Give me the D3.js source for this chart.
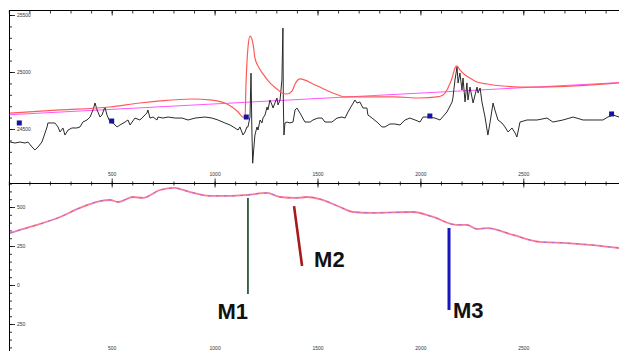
<!DOCTYPE html>
<html>
<head>
<meta charset="utf-8">
<script src="https://cdn.jsdelivr.net/npm/d3@7"></script>
<style>
  body { margin: 0; background: #fff; }
  svg { display: block; font-family: "Liberation Sans", Arial, sans-serif; }
  .tick text { fill: #333; font-size: 5px; }
</style>
</head>
<body>
<svg id="chart" width="619" height="351"></svg>
<script>
// x = wavenumber, y = signal
const spectrum = [
  [6,24386],[30,24377],[54,24386],[79,24377],[93,24386],[113,24342],[127,24316],[142,24342],
  [161,24386],[176,24465],[186,24518],[190,24553],[210,24553],[224,24553],[239,24518],[249,24474],
  [263,24509],[273,24447],[288,24491],[307,24509],[331,24509],[346,24518],[360,24561],[380,24579],
  [395,24605],[409,24667],[419,24728],[429,24667],[443,24605],[453,24623],[467,24693],[477,24623],
  [492,24561],[506,24553],[526,24518],[540,24535],[565,24561],[579,24579],[589,24535],[613,24596],
  [637,24579],[652,24605],[671,24640],[676,24667],[686,24596],[701,24605],[720,24579],[725,24605],
  [749,24596],[774,24605],[808,24596],[842,24596],[871,24579],[905,24596],[953,24605],[987,24596],
  [1016,24579],[1050,24553],[1075,24535],[1099,24509],[1114,24491],[1123,24518],[1138,24447],
  [1148,24474],[1157,24518],[1162,24518],[1172,24605],[1177,24990],[1181,24500],[1185,24200],
  [1191,24342],[1196,24447],[1206,24518],[1211,24491],[1221,24579],[1230,24553],[1235,24596],
  [1245,24623],[1255,24693],[1259,24667],[1269,24754],[1279,24711],[1284,24684],[1293,24728],
  [1303,24772],[1308,24711],[1318,24754],[1327,24930],[1332,25386],[1334,24728],[1337,24447],
  [1342,24553],[1352,24561],[1366,24553],[1381,24561],[1391,24667],[1400,24684],[1415,24640],
  [1439,24561],[1464,24561],[1478,24579],[1502,24596],[1522,24596],[1536,24561],[1570,24561],
  [1595,24596],[1619,24605],[1634,24596],[1648,24649],[1668,24711],[1682,24754],[1692,24728],
  [1706,24737],[1721,24684],[1740,24684],[1745,24623],[1765,24596],[1789,24561],[1813,24518],
  [1828,24518],[1852,24544],[1876,24544],[1901,24535],[1925,24579],[1949,24596],[1974,24579],
  [1998,24561],[2013,24605],[2032,24605],[2071,24596],[2095,24579],[2129,24649],[2154,24737],
  [2158,24772],[2168,24930],[2178,25044],[2183,24904],[2192,24991],[2202,24842],[2207,24947],
  [2217,24737],[2226,24904],[2231,24754],[2241,24868],[2256,24728],[2275,24868],[2280,24816],
  [2290,24860],[2299,24737],[2314,24605],[2324,24491],[2328,24447],[2338,24553],[2353,24728],
  [2362,24667],[2377,24579],[2396,24553],[2411,24518],[2426,24474],[2445,24509],[2460,24465],
  [2469,24430],[2484,24561],[2518,24579],[2567,24579],[2615,24596],[2644,24561],[2693,24579],
  [2742,24605],[2790,24579],[2839,24579],[2887,24579],[2911,24605],[2936,24623],[2965,24605]
];

const fit = [
  [6,24640],[249,24667],[492,24693],[637,24728],[735,24746],[890,24763],[987,24754],[1050,24728],
  [1085,24693],[1114,24649],[1138,24605],[1148,24605],[1152,24860],[1162,25210],[1172,25315],
  [1187,25245],[1196,25123],[1211,25053],[1235,24983],[1269,24904],[1303,24851],[1327,24816],
  [1352,24807],[1376,24833],[1391,24895],[1415,24939],[1488,24886],[1600,24798],[1634,24781],
  [1706,24781],[1876,24781],[1998,24772],[2081,24781],[2110,24798],[2134,24860],[2154,24947],
  [2168,25035],[2178,25053],[2192,25018],[2217,24974],[2241,24947],[2275,24912],[2324,24895],
  [2401,24877],[2484,24868],[2596,24868],[2965,24904]
];

const baseline = [[0,24625],[3000,24910]];

const anchors = [[51,24553],[500,24570],[1154,24605],[2046,24614],[2929,24632]];

const lower = [
  [6,333],[103,372],[249,436],[346,494],[443,538],[492,545],[531,532],[604,564],[652,558],
  [735,609],[808,622],[832,615],[881,596],[978,571],[1075,571],[1157,577],[1255,590],[1318,564],
  [1400,558],[1449,564],[1512,551],[1609,500],[1672,468],[1770,462],[1964,468],[2061,436],
  [2178,385],[2226,385],[2275,359],[2324,365],[2450,321],[2581,276],[2712,269],[2839,256],[2965,237]
];

const markerNames = ["M1", "M2", "M3"];
const markerStart = [[1162,558],[1386,506],[2139,365]];
const markerEnd = [[1162,-58],[1425,122],[2139,-160]];

const xLabelTicks = [500, 1000, 1500, 2000, 2500];
const yTopLabelTicks = [24500, 25000, 25500];
const yBotLabelTicks = [500, 250, 0, -250];
const yBotLabelText = ["500", "250", "0", "250"];

const svg = d3.select("#chart");
const W = 619, H = 351;
const topY = 10, midY = 183, axisX = 9.5;

const x = d3.scaleLinear().domain([0, 3000]).range([8.8, 626.2]);
const yTop = d3.scaleLinear().domain([24500, 25500]).range([129, 15]);
const yBot = d3.scaleLinear().domain([-250, 500]).range([324, 207]);

// frame lines
svg.append("line").attr("x1", axisX).attr("x2", W).attr("y1", topY + 0.5).attr("y2", topY + 0.5)
  .attr("stroke", "#000");
svg.append("line").attr("x1", axisX).attr("x2", W).attr("y1", midY + 0.5).attr("y2", midY + 0.5)
  .attr("stroke", "#000");
svg.append("line").attr("x1", axisX).attr("x2", axisX).attr("y1", topY).attr("y2", H)
  .attr("stroke", "#000");

function tickAxis(axis, tx, ty) {
  const g = svg.append("g").attr("transform", `translate(${tx},${ty})`).call(axis);
  g.select(".domain").remove();
  g.selectAll(".tick line").attr("stroke", "#000").attr("stroke-width", 0.8);
  return g;
}

const minorX = d3.range(0, 3001, 100);
// top edge: ticks hanging down
tickAxis(d3.axisBottom(x).tickValues(minorX).tickSize(3).tickFormat(""), 0, topY + 0.5);
tickAxis(d3.axisBottom(x).tickValues(xLabelTicks).tickSize(5).tickFormat(""), 0, topY + 0.5);
// middle line: ticks crossing
tickAxis(d3.axisTop(x).tickValues(minorX).tickSize(2).tickFormat(""), 0, midY + 0.5);
tickAxis(d3.axisBottom(x).tickValues(minorX).tickSize(2).tickFormat(""), 0, midY + 0.5);
tickAxis(d3.axisTop(x).tickValues(xLabelTicks).tickSize(5).tickPadding(3).tickFormat(d3.format("d")), 0, midY + 0.5);
tickAxis(d3.axisBottom(x).tickValues(xLabelTicks).tickSize(4).tickFormat(""), 0, midY + 0.5);
// bottom labels
tickAxis(d3.axisTop(x).tickValues(xLabelTicks).tickSize(0).tickPadding(0).tickFormat(d3.format("d")), 0, H - 1.5);

// left axis
tickAxis(d3.axisRight(yTop).tickValues(d3.range(24100, 25501, 100)).tickSize(2.5).tickFormat(""), axisX, 0);
tickAxis(d3.axisRight(yTop).tickValues(yTopLabelTicks).tickSize(5.5).tickPadding(2).tickFormat(d3.format("d")), axisX, 0);
tickAxis(d3.axisRight(yBot).tickValues(d3.range(-400, 651, 50)).tickSize(2.5).tickFormat(""), axisX, 0);
tickAxis(d3.axisRight(yBot).tickValues(yBotLabelTicks).tickSize(5.5).tickPadding(2)
  .tickFormat((d, i) => yBotLabelText[i]), axisX, 0);

// upper panel
svg.append("clipPath").attr("id", "clipTop").append("rect")
  .attr("x", axisX).attr("y", topY).attr("width", W - axisX).attr("height", midY - topY);
const upper = svg.append("g").attr("clip-path", "url(#clipTop)");
const lineTop = d3.line().x(d => x(d[0])).y(d => yTop(d[1]));

upper.append("path").datum(baseline).attr("d", lineTop)
  .attr("fill", "none").attr("stroke", "#ff55ff").attr("stroke-width", 1);
upper.append("path").datum(spectrum).attr("d", lineTop)
  .attr("fill", "none").attr("stroke", "#2a2a2a").attr("stroke-width", 1).attr("stroke-linejoin", "round");
upper.append("path").datum(fit).attr("d", d3.line().curve(d3.curveMonotoneX).x(d => x(d[0])).y(d => yTop(d[1])))
  .attr("fill", "none").attr("stroke", "#ff5a5a").attr("stroke-width", 1.2);
upper.selectAll("rect.anchor").data(anchors).enter().append("rect").attr("class", "anchor")
  .attr("x", d => x(d[0]) - 2.5).attr("y", d => yTop(d[1]) - 2.5)
  .attr("width", 5).attr("height", 5).attr("fill", "#1414a0");

// lower panel
const lineBot = d3.line().curve(d3.curveMonotoneX).x(d => x(d[0])).y(d => yBot(d[1]));
svg.append("path").datum(lower).attr("d", lineBot)
  .attr("fill", "none").attr("stroke", "#ff7a92").attr("stroke-width", 1.8);
svg.append("path").datum(lower).attr("d", lineBot)
  .attr("fill", "none").attr("stroke", "#7a6cff").attr("stroke-width", 1)
  .attr("stroke-dasharray", "3,5").attr("opacity", 0.8);

const markerColors = ["#2f5a35", "#a51a1a", "#1616c0"];
const markerWidths = [1.8, 2.6, 3];
const labelOffsets = [[0, 25, "end"], [12, 1, "start"], [4, 8, "start"]];

markerNames.forEach((name, i) => {
  const [x1, y1] = markerStart[i], [x2, y2] = markerEnd[i];
  svg.append("line")
    .attr("x1", x(x1)).attr("y1", yBot(y1)).attr("x2", x(x2)).attr("y2", yBot(y2))
    .attr("stroke", markerColors[i]).attr("stroke-width", markerWidths[i]);
  const [dx, dy, anchor] = labelOffsets[i];
  svg.append("text")
    .attr("x", x(x2) + dx).attr("y", yBot(y2) + dy)
    .attr("text-anchor", anchor)
    .attr("font-size", 22).attr("font-weight", "bold").attr("fill", "#111")
    .text(name);
});
</script>
</body>
</html>
